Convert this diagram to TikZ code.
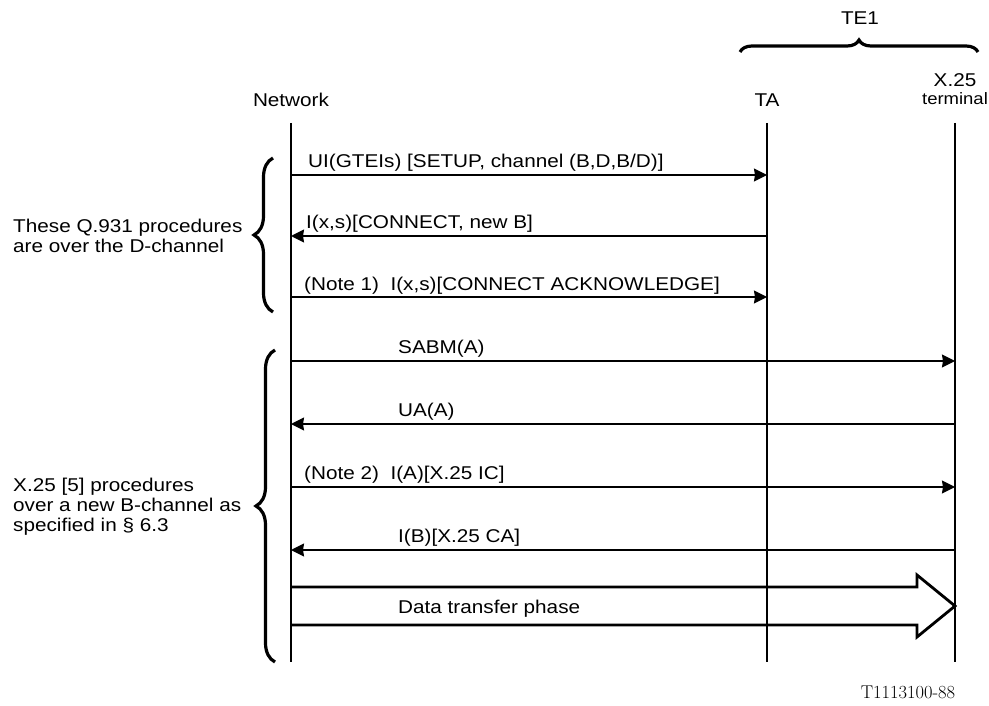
\documentclass[tikz,border=0pt]{standalone}
\usepackage{fontspec}
\newfontfamily\diagfont{Liberation Sans}[FakeStretch=1.12]
\usepackage{tikz}
\usetikzlibrary{arrows.meta, positioning, calc, decorations.pathreplacing}

\begin{document}
\begin{tikzpicture}[x=1pt, y=-1pt,
        head/.style={font=\diagfont\fontsize{18.5}{20}\selectfont, inner sep=0pt, align=center},
        lbl/.style={font=\diagfont\fontsize{18.5}{20}\selectfont, inner sep=0pt, anchor=base west},
        side/.style={font=\diagfont\fontsize{18.5}{20}\selectfont, inner sep=0pt, align=left, anchor=west},
        life/.style={line width=1.4pt, color=black},
        msg/.style={-{Stealth[length=13pt, width=13pt, inset=1pt]}, line width=1.6pt},
        brace/.style={decorate, decoration={brace, amplitude=#1}, line width=3.2pt},
        brace/.default=19pt
    ]
        \useasboundingbox (0,0) rectangle (989,706);

        \node[head] (net) at (291,100) {Network};
        \node[head] (ta) at (767,100) {TA};
        \node[head, anchor=base] (x25) at (955,87) {X.25};
        \node[head, anchor=base, font=\diagfont\fontsize{16.5}{18}\selectfont] (term) at (955,105) {terminal};
        \node[head] (te) at (860,18) {TE1};

        \coordinate (net top) at (291,123);
        \coordinate (net bot) at (291,662);
        \coordinate (ta top) at (767,123);
        \coordinate (ta bot) at (767,662);
        \coordinate (term top) at (955,123);
        \coordinate (term bot) at (955,662);
        \draw[life] (net top) -- (net bot);
        \draw[life] (ta top) -- (ta bot);
        \draw[life] (term top) -- (term bot);

        \draw[brace=12pt] (740,52) -- (978,52);

        \coordinate (m1) at (0,175);
        \coordinate (m2) at (0,236);
        \coordinate (m3) at (0,297);
        \coordinate (m4) at (0,361);
        \coordinate (m5) at (0,424);
        \coordinate (m6) at (0,487);
        \coordinate (m7) at (0,550);

        \draw[msg] (net top |- m1) -- (ta top |- m1);
        \draw[msg] (ta top |- m2) -- (net top |- m2);
        \draw[msg] (net top |- m3) -- (ta top |- m3);
        \draw[msg] (net top |- m4) -- (term top |- m4);
        \draw[msg] (term top |- m5) -- (net top |- m5);
        \draw[msg] (net top |- m6) -- (term top |- m6);
        \draw[msg] (term top |- m7) -- (net top |- m7);

        \node[lbl] (l1) at (308,168) {UI(GTEIs) [SETUP, channel (B,D,B/D)]};
        \node[lbl] (l2) at (306,229) {I(x,s)[CONNECT, new B]};
        \node[lbl] (l3) at (304,290) {(Note 1)\ \ I(x,s)[CONNECT ACKNOWLEDGE]};
        \node[lbl] (l4) at (398,353) {SABM(A)};
        \node[lbl] (l5) at (398,416) {UA(A)};
        \node[lbl] (l6) at (304,479) {(Note 2)\ \ I(A)[X.25 IC]};
        \node[lbl] (l7) at (398,542) {I(B)[X.25 CA]};

        \draw[line width=2.8pt, line join=miter] (net top |- 0,587) -- (917,587) -- (917,575) -- (955,606)
            -- (917,637) -- (917,625) -- (net top |- 0,625);
        \node[lbl] (data) at (398,613) {Data transfer phase};

        \draw[brace] (273,312) -- (273,158);
        \draw[brace] (275,662) -- (275,350);
        \node[side] (q931) at (13,236) {These Q.931 procedures\\are over the D-channel};
        \node[side] (x25p) at (13,507) {X.25 [5] procedures\\over a new B-channel as\\specified in \S\ 6.3};

        \node[font=\fontsize{18.5}{20}\selectfont, inner sep=0pt] (ref) at (908,692) {T1113100-88};
    \end{tikzpicture}
\end{document}
